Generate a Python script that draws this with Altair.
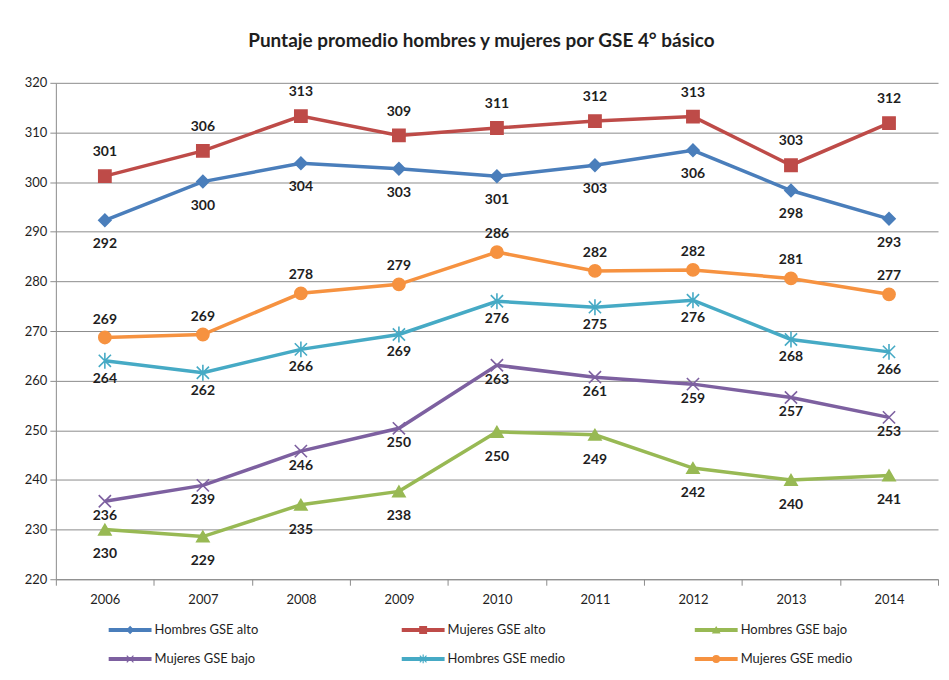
import altair as alt
import pandas as pd

years = ["2006", "2007", "2008", "2009", "2010", "2011", "2012", "2013", "2014"]
series = ["Hombres GSE alto", "Mujeres GSE alto", "Hombres GSE bajo",
          "Mujeres GSE bajo", "Hombres GSE medio", "Mujeres GSE medio"]

hombres_alto = [292.3, 300.1, 303.8, 302.7, 301.2, 303.4, 306.4, 298.3, 292.6]
mujeres_alto = [301.2, 306.3, 313.3, 309.4, 310.9, 312.3, 313.2, 303.4, 311.9]
hombres_bajo = [230.0, 228.6, 235.0, 237.7, 249.7, 249.1, 242.4, 240.0, 240.9]
mujeres_bajo = [235.7, 238.9, 245.8, 250.4, 263.1, 260.7, 259.3, 256.6, 252.6]
hombres_medio = [264.0, 261.6, 266.3, 269.3, 276.0, 274.8, 276.2, 268.3, 265.8]
mujeres_medio = [268.7, 269.3, 277.6, 279.4, 285.9, 282.1, 282.3, 280.6, 277.4]

values = [hombres_alto, mujeres_alto, hombres_bajo, mujeres_bajo, hombres_medio, mujeres_medio]

colors = ["#4A7EBB", "#BE4B48", "#98B954", "#7D60A0", "#46AAC5", "#F69240"]
shapes = ["diamond", "square", "triangle-up",
          "M-1,-1L1,1M-1,1L1,-1",
          "M-1,-1L1,1M-1,1L1,-1M0,-1.3L0,1.3",
          "circle"]
label_dy = [24, -24, 25, 15, 18, -18]

rows = []
for s, vals in zip(series, values):
    for yr, v in zip(years, vals):
        rows.append({"serie": s, "year": yr, "value": v})
df = pd.DataFrame(rows)

FONT = "Lato"
GRID = "#8c8c8c"
TXT = "#1e1e1e"

color_scale = alt.Scale(domain=series, range=colors)
shape_scale = alt.Scale(domain=series, range=shapes)

x = alt.X("year:O", sort=years, title=None,
          scale=alt.Scale(paddingInner=0, paddingOuter=0),
          axis=alt.Axis(labelAngle=0, tickBand="extent", ticks=True, tickSize=6,
                        tickColor=GRID, domainColor=GRID, labelFont=FONT,
                        labelFontSize=13, labelColor=TXT, labelPadding=8, grid=False))
y = alt.Y("value:Q", title=None,
          scale=alt.Scale(domain=[220, 320], nice=False, zero=False),
          axis=alt.Axis(values=list(range(220, 321, 10)), tickSize=6, tickColor=GRID,
                        domainColor=GRID, gridColor=GRID, grid=True, labelFont=FONT,
                        labelFontSize=13, labelColor=TXT, labelPadding=3))

base = alt.Chart(df).encode(x=x, y=y)

lines = base.mark_line(strokeWidth=3.5).encode(
    color=alt.Color("serie:N", scale=color_scale, legend=None))

points = base.mark_point(filled=True, size=150, strokeWidth=1.6, opacity=1).encode(
    shape=alt.Shape("serie:N", scale=shape_scale, legend=None),
    fill=alt.Fill("serie:N", scale=color_scale, legend=None),
    stroke=alt.Stroke("serie:N", scale=color_scale, legend=None))

texts = []
for s, d in zip(series, label_dy):
    texts.append(
        base.transform_filter(alt.datum.serie == s)
        .mark_text(dy=d, font=FONT, fontSize=14, fontWeight="bold", color=TXT,
                   baseline="middle")
        .encode(text=alt.Text("value:Q", format=".0f")))

main = alt.layer(lines, points, *texts).properties(width=885, height=498)

# legend panel
leg_df = pd.DataFrame({"serie": series,
                       "col": [i % 3 for i in range(len(series))],
                       "row": [i // 3 for i in range(len(series))]})
leg_base = alt.Chart(leg_df).transform_calculate(
    xs="53 + 294 * datum.col",
    xe="96 + 294 * datum.col",
    xm="74.5 + 294 * datum.col",
    xt="99 + 294 * datum.col",
    yy="24 + 29 * datum.row",
)
lxs = alt.Scale(domain=[0, 885], nice=False, zero=False)
lys = alt.Scale(domain=[0, 62], nice=False, zero=False, reverse=True)

leg_line = leg_base.mark_rule(strokeWidth=4).encode(
    x=alt.X("xs:Q", scale=lxs, axis=None),
    x2="xe:Q",
    y=alt.Y("yy:Q", scale=lys, axis=None),
    color=alt.Color("serie:N", scale=color_scale, legend=None))
leg_pt = leg_base.mark_point(filled=True, size=45, strokeWidth=1.2, opacity=1).encode(
    x=alt.X("xm:Q", scale=lxs, axis=None),
    y=alt.Y("yy:Q", scale=lys, axis=None),
    shape=alt.Shape("serie:N", scale=shape_scale, legend=None),
    fill=alt.Fill("serie:N", scale=color_scale, legend=None),
    stroke=alt.Stroke("serie:N", scale=color_scale, legend=None))
leg_txt = leg_base.mark_text(align="left", baseline="middle", font=FONT,
                             fontSize=13, color=TXT).encode(
    x=alt.X("xt:Q", scale=lxs, axis=None),
    y=alt.Y("yy:Q", scale=lys, axis=None),
    text="serie:N")

legend = alt.layer(leg_line, leg_pt, leg_txt).properties(width=885, height=62)

chart = alt.vconcat(main, legend, spacing=0).properties(
    title=alt.TitleParams("Puntaje promedio hombres y mujeres por GSE 4° básico",
                          font=FONT, fontSize=19, fontWeight="bold", color=TXT,
                          anchor="middle", offset=26),
    padding={"left": 16, "top": 23, "right": 2, "bottom": 0},
    background="white",
).configure_view(stroke=None)

chart.save("out.html", embed_options={"renderer": "svg", "actions": False})
